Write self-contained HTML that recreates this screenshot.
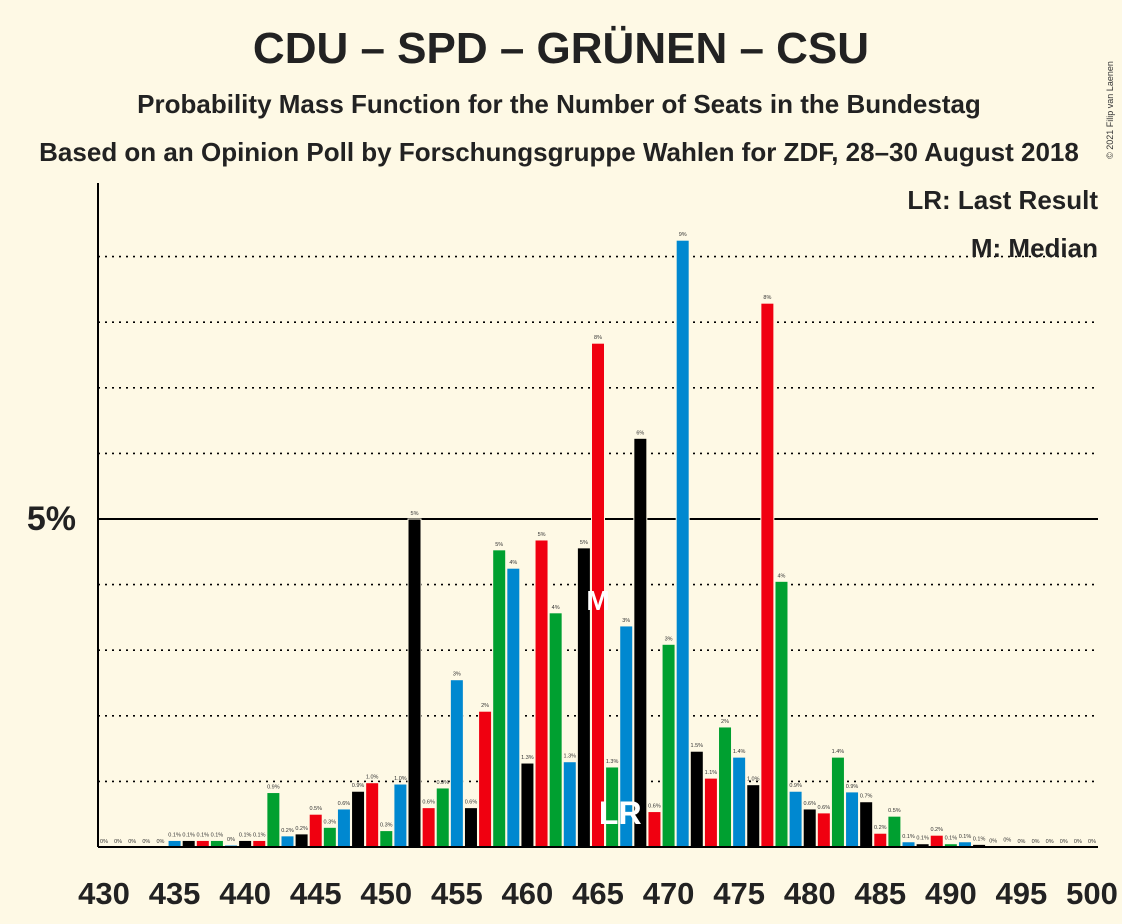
<!DOCTYPE html>
<html><head><meta charset="utf-8"><style>
body{margin:0;background:#fef9e5;}
svg{display:block;font-family:"Liberation Sans",sans-serif;}
</style></head><body>
<svg width="1122" height="924" viewBox="0 0 1122 924">
<rect width="1122" height="924" fill="#fef9e5"/>
<text x="561" y="63" text-anchor="middle" font-size="44" font-weight="bold" fill="#222">CDU – SPD – GRÜNEN – CSU</text>
<text x="559" y="113" text-anchor="middle" font-size="26" font-weight="bold" fill="#222">Probability Mass Function for the Number of Seats in the Bundestag</text>
<text x="559" y="161" text-anchor="middle" font-size="26" font-weight="bold" fill="#222">Based on an Opinion Poll by Forschungsgruppe Wahlen for ZDF, 28–30 August 2018</text>
<text x="1113" y="110" font-size="9" fill="#333" transform="rotate(-90 1113 110)" text-anchor="middle">© 2021 Filip van Laenen</text>
<g id="grid"></g>
<g id="bars"></g>
<g id="labels"></g>
<line x1="98" y1="183" x2="98" y2="847" stroke="#000" stroke-width="2"/>
<line x1="98" y1="847" x2="1098" y2="847" stroke="#000" stroke-width="2"/>
<text x="76" y="530" text-anchor="end" font-size="34" font-weight="bold" fill="#222">5%</text>
<text x="1098" y="209" text-anchor="end" font-size="26" font-weight="bold" fill="#222">LR: Last Result</text>
<text x="1098" y="257" text-anchor="end" font-size="26" font-weight="bold" fill="#222">M: Median</text>
</svg>
<script>
const seats=[430,431,432,433,434,435,436,437,438,439,440,441,442,443,444,445,446,447,448,449,450,451,452,453,454,455,456,457,458,459,460,461,462,463,464,465,466,467,468,469,470,471,472,473,474,475,476,477,478,479,480,481,482,483,484,485,486,487,488,489,490,491,492,493,494,495,496,497,498,499,500];
const probs=[0,0,0,0,0,0.1,0.1,0.1,0.1,0.03,0.1,0.1,0.83,0.17,0.2,0.5,0.3,0.58,0.85,0.98,0.25,0.96,5.0,0.6,0.9,2.55,0.6,2.07,4.53,4.25,1.28,4.68,3.57,1.3,4.56,7.68,1.22,3.37,6.23,0.54,3.09,9.25,1.46,1.05,1.83,1.37,0.95,8.29,4.05,0.85,0.58,0.52,1.37,0.84,0.69,0.21,0.47,0.08,0.05,0.18,0.05,0.08,0.04,0.01,0.02,0,0,0,0,0,0];
const labels=["0%","0%","0%","0%","0%","0.1%","0.1%","0.1%","0.1%","0%","0.1%","0.1%","0.9%","0.2%","0.2%","0.5%","0.3%","0.6%","0.9%","1.0%","0.3%","1.0%","5%","0.6%","0.9%","3%","0.6%","2%","5%","4%","1.3%","5%","4%","1.3%","5%","8%","1.3%","3%","6%","0.6%","3%","9%","1.5%","1.1%","2%","1.4%","1.0%","8%","4%","0.9%","0.6%","0.6%","1.4%","0.9%","0.7%","0.2%","0.5%","0.1%","0.1%","0.2%","0.1%","0.1%","0.1%","0%","0%","0%","0%","0%","0%","0%","0%"];
const xTicks=[430,435,440,445,450,455,460,465,470,475,480,485,490,495,500];
const gridVals=[1,2,3,4,6,7,8,9];
const medianSeat=465, lastResultSeat=467;
const NS="http://www.w3.org/2000/svg";
const xS=s=>104+(s-430)*(988/70);
const yS=v=>847-v*65.6;
const colors=["#000000","#f00010","#00a030","#0088d0"];
function mk(tag,attrs,parent){const e=document.createElementNS(NS,tag);for(const k in attrs)e.setAttribute(k,attrs[k]);parent.appendChild(e);return e;}
const grid=document.getElementById('grid'),bars=document.getElementById('bars'),lab=document.getElementById('labels');
const svg=document.querySelector('svg');
gridVals.forEach(v=>{
  const l=mk('line',{x1:98,x2:1098,y1:yS(v),y2:yS(v),stroke:'#000','stroke-width':1.6,'stroke-dasharray':'2,5'},grid);
  
  
});
const g5=mk('line',{x1:98,x2:1098,y1:yS(5),y2:yS(5),stroke:'#000','stroke-width':2},grid);


seats.forEach((s,i)=>{
  const v=probs[i],cx=xS(s);
  if(v>0){
    const r=mk('rect',{x:cx-6.5,y:yS(v),width:13,height:847-yS(v),fill:colors[s%4],stroke:'#fef9e5','stroke-width':1},bars);
    
    
  }
  const t=mk('text',{x:cx,y:yS(v)-4,'text-anchor':'middle','font-size':5.5,fill:'#333'},lab);
  t.textContent=labels[i];
  
  
});
xTicks.forEach(s=>{
  const t=mk('text',{x:xS(s),y:904,'text-anchor':'middle','font-size':31,'font-weight':'bold',fill:'#222'},svg);
  t.textContent=s;
  
  
});
const m=mk('text',{x:xS(medianSeat),y:610,'text-anchor':'middle','font-size':28,'font-weight':'bold',fill:'#fff'},svg);
m.textContent='M';


const lr=mk('text',{x:xS(lastResultSeat)-6,y:824,'text-anchor':'middle','font-size':32,'font-weight':'bold',fill:'#fff'},svg);
lr.textContent='LR';


</script>
</body></html>
